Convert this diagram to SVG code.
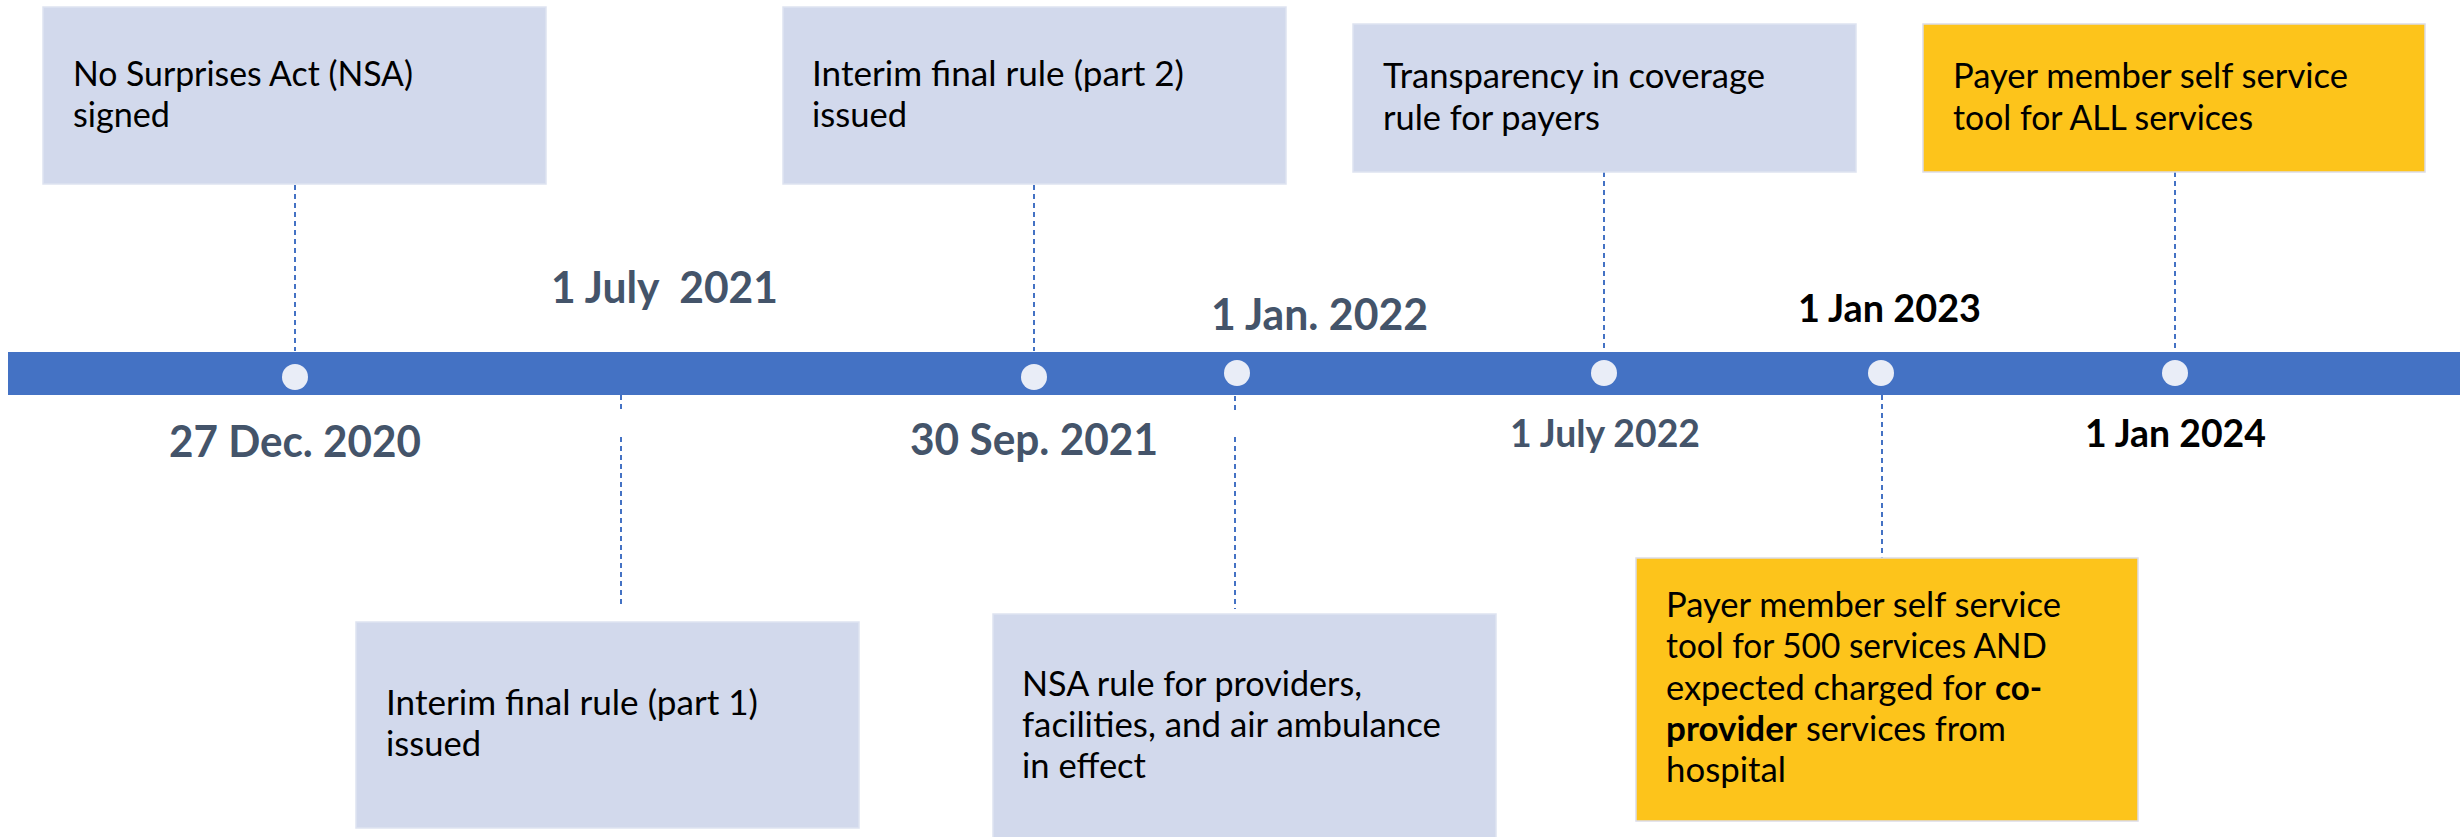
<svg xmlns="http://www.w3.org/2000/svg" width="2463" height="837" viewBox="0 0 2463 837">
  <style>
    .box { fill: #D2D9EC; stroke: #DEE3F1; stroke-width: 1.5; }
    .hl { fill: #FDC41B; stroke: #DCDCE8; stroke-width: 1.5; }
    .txt { font-family: Lato, 'Liberation Sans', sans-serif; font-size: 34px; fill: #000000; }
    .b { font-weight: bold; }
    .date { font-family: Lato, 'Liberation Sans', sans-serif; font-weight: bold; font-size: 43px; fill: #44546A; }
    .date.sm { font-size: 38px; }
    .date.dark { fill: #000000; }
    .lead { stroke: #4472C4; stroke-width: 2; stroke-dasharray: 5 4; fill: none; }
    .dot { fill: #E9EDF7; }
  </style>

  <!-- timeline axis -->
  <g id="axis">
    <rect x="8" y="352" width="2452" height="43" fill="#4472C4"/>
  </g>

  <!-- dashed leaders from the axis to each event box -->
  <g id="connectors">
    <line class="lead" x1="295" y1="176" x2="295" y2="351"/>
    <line class="lead" x1="1034" y1="176" x2="1034" y2="351"/>
    <line class="lead" x1="1604" y1="172" x2="1604" y2="352"/>
    <line class="lead" x1="2175" y1="172" x2="2175" y2="352"/>
    <line class="lead" x1="621" y1="395" x2="621" y2="413"/>
    <line class="lead" x1="621" y1="437" x2="621" y2="604"/>
    <line class="lead" x1="1235" y1="396" x2="1235" y2="413"/>
    <line class="lead" x1="1235" y1="437" x2="1235" y2="609"/>
    <line class="lead" x1="1882" y1="395" x2="1882" y2="560"/>
  </g>

  <!-- markers on the axis -->
  <g id="markers">
    <circle class="dot" cx="295" cy="377" r="13"/>
    <circle class="dot" cx="1034" cy="377" r="13"/>
    <circle class="dot" cx="1237" cy="373" r="13"/>
    <circle class="dot" cx="1604" cy="373" r="13"/>
    <circle class="dot" cx="1881" cy="373" r="13"/>
    <circle class="dot" cx="2175" cy="373" r="13"/>
  </g>

  <!-- date labels -->
  <g id="dates">
    <text class="date" x="169" y="457" textLength="252" lengthAdjust="spacingAndGlyphs">27 Dec. 2020</text>
    <text class="date" x="551" y="303" textLength="227" lengthAdjust="spacingAndGlyphs" style="white-space:pre">1 July  2021</text>
    <text class="date" x="910" y="455" textLength="248" lengthAdjust="spacingAndGlyphs">30 Sep. 2021</text>
    <text class="date" x="1211" y="330" textLength="217" lengthAdjust="spacingAndGlyphs">1 Jan. 2022</text>
    <text class="date sm" x="1510" y="447" textLength="190" lengthAdjust="spacingAndGlyphs">1 July 2022</text>
    <text class="date sm dark" x="1798" y="322" textLength="183" lengthAdjust="spacingAndGlyphs">1 Jan 2023</text>
    <text class="date sm dark" x="2085" y="447" textLength="181" lengthAdjust="spacingAndGlyphs">1 Jan 2024</text>
  </g>

  <g id="nsa-signed">
    <rect class="box" x="43" y="7" width="503" height="177"/>
    <text class="txt" x="73" y="86" textLength="340" lengthAdjust="spacingAndGlyphs">No Surprises Act (NSA)</text>
    <text class="txt" x="73" y="127" textLength="97" lengthAdjust="spacingAndGlyphs">signed</text>
  </g>

  <g id="ifr-part2">
    <rect class="box" x="783" y="7" width="503" height="177"/>
    <text class="txt" x="812" y="86" textLength="372" lengthAdjust="spacingAndGlyphs">Interim final rule (part 2)</text>
    <text class="txt" x="812" y="127" textLength="95" lengthAdjust="spacingAndGlyphs">issued</text>
  </g>

  <g id="tic-payers">
    <rect class="box" x="1353" y="24" width="503" height="148"/>
    <text class="txt" x="1383" y="88" textLength="382" lengthAdjust="spacingAndGlyphs">Transparency in coverage</text>
    <text class="txt" x="1383" y="130" textLength="217" lengthAdjust="spacingAndGlyphs">rule for payers</text>
  </g>

  <g id="tool-all">
    <rect class="hl" x="1923" y="24" width="502" height="148"/>
    <text class="txt" x="1953" y="88" textLength="395" lengthAdjust="spacingAndGlyphs">Payer member self service</text>
    <text class="txt" x="1953" y="130" textLength="300" lengthAdjust="spacingAndGlyphs">tool for ALL services</text>
  </g>

  <g id="ifr-part1">
    <rect class="box" x="356" y="622" width="503" height="206"/>
    <text class="txt" x="386" y="715" textLength="372" lengthAdjust="spacingAndGlyphs">Interim final rule (part 1)</text>
    <text class="txt" x="386" y="756" textLength="95" lengthAdjust="spacingAndGlyphs">issued</text>
  </g>

  <g id="nsa-effect">
    <rect class="box" x="993" y="614" width="503" height="230"/>
    <text class="txt" x="1022" y="696" textLength="340" lengthAdjust="spacingAndGlyphs">NSA rule for providers,</text>
    <text class="txt" x="1022" y="737" textLength="419" lengthAdjust="spacingAndGlyphs">facilities, and air ambulance</text>
    <text class="txt" x="1022" y="778" textLength="124" lengthAdjust="spacingAndGlyphs">in effect</text>
  </g>

  <g id="tool-500">
    <rect class="hl" x="1636" y="558" width="502" height="263"/>
    <text class="txt" x="1666" y="617" textLength="395" lengthAdjust="spacingAndGlyphs">Payer member self service</text>
    <text class="txt" x="1666" y="658" textLength="381" lengthAdjust="spacingAndGlyphs">tool for 500 services AND</text>
    <text class="txt" x="1666" y="700" textLength="320" lengthAdjust="spacingAndGlyphs">expected charged for</text>
    <text class="txt b" x="1995" y="700" textLength="47" lengthAdjust="spacingAndGlyphs">co-</text>
    <text class="txt b" x="1666" y="741" textLength="131" lengthAdjust="spacingAndGlyphs">provider</text>
    <text class="txt" x="1806" y="741" textLength="200" lengthAdjust="spacingAndGlyphs">services from</text>
    <text class="txt" x="1666" y="782" textLength="120" lengthAdjust="spacingAndGlyphs">hospital</text>
  </g>
</svg>
